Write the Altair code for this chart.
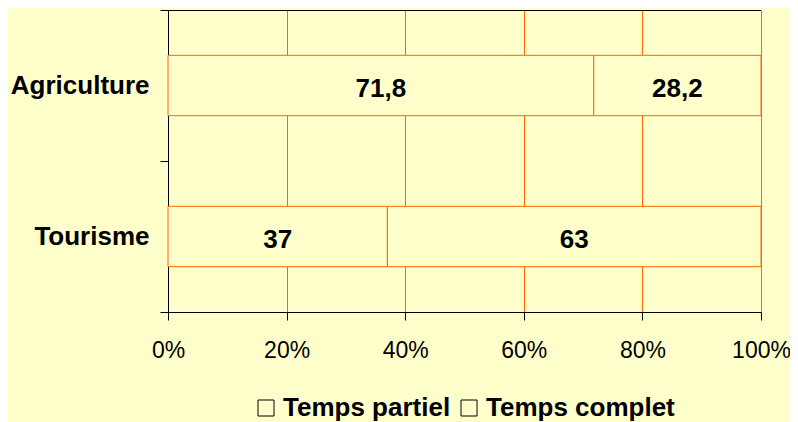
import altair as alt
import pandas as pd

# ---- data ----
categories = ["Agriculture", "Agriculture", "Tourisme", "Tourisme"]
series = ["Temps partiel", "Temps complet", "Temps partiel", "Temps complet"]
values = [71.8, 28.2, 37, 63]
series_order = [0, 1, 0, 1]
series_names = ["Temps partiel", "Temps complet"]
category_names = ["Agriculture", "Tourisme"]
tick_values = [0, 0.2, 0.4, 0.6, 0.8, 1.0]

df = pd.DataFrame({"cat": categories, "serie": series, "value": values, "ord": series_order})

BG = "#FFFFCC"
ORANGE = "#FF6600"
FONT = "Liberation Sans"
W, H = 593, 302

base = alt.Chart(df).transform_stack(
    stack="value",
    groupby=["cat"],
    as_=["x0", "x1"],
    offset="normalize",
    sort=[alt.SortField("ord", order="ascending")],
).transform_calculate(
    mid="(datum.x0 + datum.x1) / 2",
    lbl="replace(toString(datum.value), '.', ',')",
)

y_enc = alt.Y(
    "cat:N",
    sort=category_names,
    scale=alt.Scale(paddingInner=0, paddingOuter=0),
    axis=alt.Axis(
        title=None,
        bandPosition=1,
        tickExtra=True,
        tickSize=8,
        tickColor="black",
        domainColor="black",
        labelFont=FONT,
        labelFontSize=26,
        labelFontWeight="bold",
        labelColor="black",
        labelPadding=11,
        grid=False,
    ),
)

x_scale = alt.Scale(domain=[0, 1], nice=False, zero=True)

bars = base.mark_bar(
    height=alt.RelativeBandSize(0.4),
    stroke=ORANGE,
    strokeWidth=1,
).encode(
    x=alt.X(
        "x0:Q",
        scale=x_scale,
        axis=alt.Axis(
            title=None,
            values=tick_values,
            format="%",
            tickSize=8,
            tickColor="black",
            domainColor="black",
            labelFont=FONT,
            labelFontSize=23,
            labelColor="black",
            labelPadding=19,
            labelFlush=False,
            grid=True,
            gridColor=ORANGE,
            gridOpacity=1,
            gridWidth=1,
        ),
    ),
    x2="x1:Q",
    y=y_enc,
    color=alt.Color(
        "serie:N",
        scale=alt.Scale(domain=series_names, range=[BG, BG]),
        legend=alt.Legend(
            title=None,
            orient="none",
            legendX=85,
            legendY=385,
            direction="horizontal",
            symbolType="square",
            symbolSize=256,
            symbolStrokeColor="black",
            symbolFillColor=BG,
            symbolStrokeWidth=1,
            labelFont=FONT,
            labelFontSize=26,
            labelFontWeight="bold",
            labelColor="black",
            labelLimit=400,
            labelOffset=4,
            columnPadding=5,
            padding=0,
        ),
    ),
    order=alt.Order("ord:Q"),
)

labels = base.mark_text(
    font=FONT, fontSize=26, fontWeight="bold", color="black", dy=3
).encode(
    x=alt.X("mid:Q", scale=x_scale),
    y=alt.Y("cat:N", sort=category_names),
    text="lbl:N",
)

top_line = alt.Chart(df).mark_rule(color="black", strokeWidth=1).encode(
    x=alt.value(0), x2=alt.value(W), y=alt.value(0.5)
)

chart = alt.layer(bars, labels, top_line).properties(
    width=W,
    height=H,
    background=BG,
    autosize=alt.AutoSizeParams(type="none"),
    padding={"left": 160, "top": 2, "right": 29, "bottom": 112},
).configure_view(stroke=None)

chart.save("out.html", embed_options={"renderer": "svg", "actions": False})
